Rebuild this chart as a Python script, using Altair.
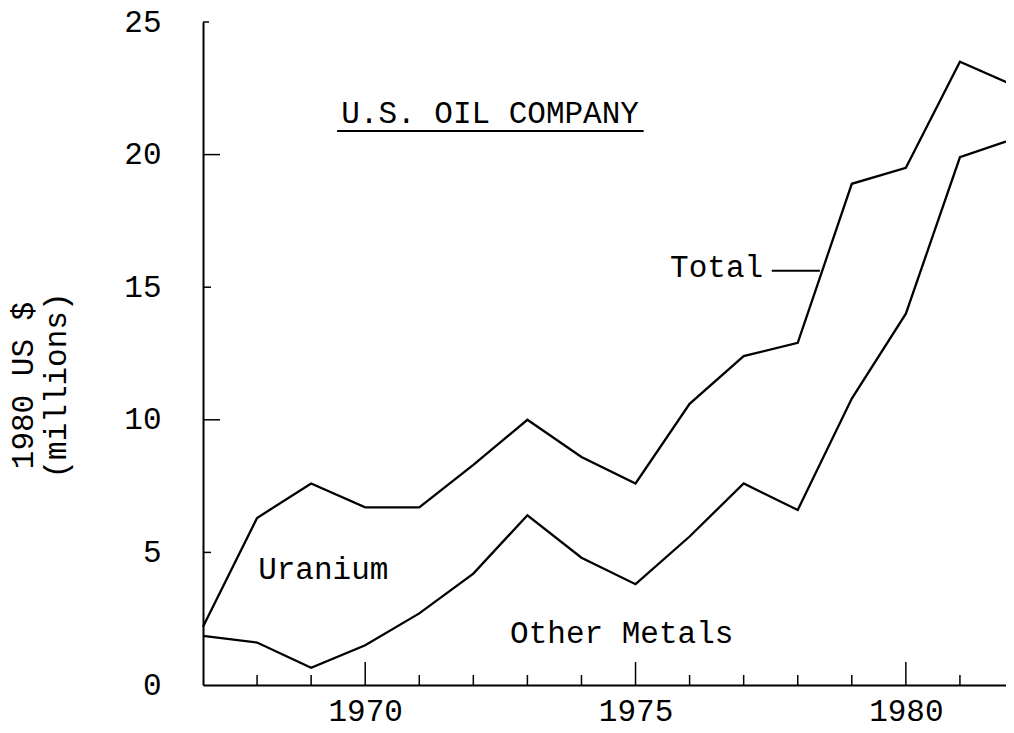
import altair as alt
import pandas as pd

years = list(range(1967, 1983))
total = [2.2, 6.3, 7.6, 6.7, 6.7, 8.3, 10.0, 8.6, 7.6, 10.6, 12.4, 12.9, 18.9, 19.5, 23.5, 22.6]
other_metals = [1.85, 1.6, 0.65, 1.5, 2.7, 4.2, 6.4, 4.8, 3.8, 5.6, 7.6, 6.6, 10.8, 14.0, 19.9, 20.6]

y_label_values = [0, 5, 10, 15, 20, 25]
x_label_values = [1970, 1975, 1980]
y_ticks_long = [10, 20]
y_ticks_short = [5, 15]
y_ticks_top = [25]
x_ticks_long = [1970, 1975, 1980]
x_ticks_short = [1968, 1969, 1971, 1972, 1973, 1974, 1976, 1977, 1978, 1979, 1981]

FONT = "Liberation Mono"
FS = 31
W, H = 811, 663

df = pd.DataFrame({
    "year": years * 2,
    "value": total + other_metals,
    "series": ["Total"] * len(years) + ["Other Metals"] * len(years),
})

xs = alt.Scale(domain=[1967, 1982], nice=False, zero=False)
ys = alt.Scale(domain=[0, 25], nice=False, zero=True)

X_AXIS = alt.Axis(
    values=x_label_values, format="d", ticks=False, grid=False,
    domainColor="black", domainWidth=2, labelFont=FONT, labelFontSize=FS,
    labelColor="black", labelPadding=11, title=None)
Y_AXIS = alt.Axis(
    values=y_label_values, ticks=False, grid=False,
    domainColor="black", domainWidth=2, labelFont=FONT, labelFontSize=FS,
    labelColor="black", labelPadding=42,
    title=["1980 US $", "(millions)"], titleFont=FONT, titleFontSize=FS,
    titleFontWeight="normal", titleColor="black", titleAngle=270,
    titleX=-180, titleY=363, titleAlign="center", titleBaseline="middle",
    titleLineHeight=33)

lines = alt.Chart(df).mark_line(color="black", strokeWidth=2.3).encode(
    x=alt.X("year:Q", scale=xs, axis=X_AXIS),
    y=alt.Y("value:Q", scale=ys, axis=Y_AXIS),
    detail="series:N",
)

def ytick(vals, length):
    return alt.Chart(pd.DataFrame({"v": vals})).mark_rule(color="black", strokeWidth=1.5).encode(
        y=alt.Y("v:Q", scale=ys, axis=Y_AXIS), x=alt.value(0), x2=alt.value(length))

def xtick(vals, length):
    return alt.Chart(pd.DataFrame({"v": vals})).mark_rule(color="black", strokeWidth=1.5).encode(
        x=alt.X("v:Q", scale=xs, axis=X_AXIS), y=alt.value(H), y2=alt.value(H - length))

def label(text, x, y, align="left"):
    return alt.Chart(pd.DataFrame({"t": [text]})).mark_text(
        font=FONT, fontSize=FS, color="black", align=align, baseline="alphabetic").encode(
        x=alt.X(datum=x, scale=xs, axis=X_AXIS),
        y=alt.Y(datum=y, scale=ys, axis=Y_AXIS), text="t:N")

title_txt = label("U.S. OIL COMPANY", 1972.31, 21.19, "center")
underline = alt.Chart(pd.DataFrame({"a": [0]})).mark_rule(color="black", strokeWidth=2).encode(
    x=alt.X(datum=1969.48, scale=xs, axis=X_AXIS), x2=alt.datum(1975.15),
    y=alt.Y(datum=20.89, scale=ys, axis=Y_AXIS))
total_lbl = label("Total", 1977.36, 15.38, "right")
leader = alt.Chart(pd.DataFrame({"a": [0]})).mark_rule(color="black", strokeWidth=2).encode(
    x=alt.X(datum=1977.52, scale=xs, axis=X_AXIS), x2=alt.datum(1978.41),
    y=alt.Y(datum=15.62, scale=ys, axis=Y_AXIS))
uranium_lbl = label("Uranium", 1968.02, 4.0)
other_lbl = label("Other Metals", 1972.68, 1.58)

chart = alt.layer(
    lines,
    ytick(y_ticks_long, 17), ytick(y_ticks_short, 8), ytick(y_ticks_top, 6),
    xtick(x_ticks_long, 23), xtick(x_ticks_short, 10),
    title_txt, underline, total_lbl, leader, uranium_lbl, other_lbl,
).properties(
    width=W, height=H,
    autosize=alt.AutoSizeParams(type="none"),
    padding={"left": 195, "top": 14, "right": -8, "bottom": 40},
    background="white",
).configure_view(stroke=None)

chart.save("out.html", embed_options={"renderer": "svg", "actions": False})
